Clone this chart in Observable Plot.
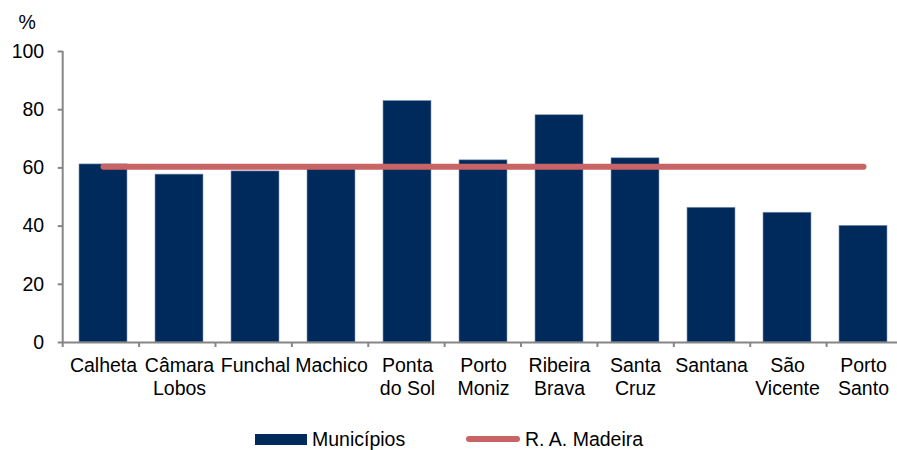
<!DOCTYPE html>
<html>
<head>
<meta charset="utf-8">
<script src="https://cdn.jsdelivr.net/npm/d3@7"></script>
<script src="https://cdn.jsdelivr.net/npm/@observablehq/plot@0.6"></script>
<style>
  html, body { margin: 0; padding: 0; background: #fff; overflow: hidden; }
  body { width: 897px; height: 450px; font-family: "Liberation Sans", Arial, sans-serif; }
  #chart svg { display: block; overflow: hidden; }
  .legend { position: relative; top: -3px; height: 22px; font-size: 19.5px; line-height: 22px; color: #000; }
  .legend .item { position: absolute; top: 0; display: flex; align-items: center; height: 22px; }
  .legend .sw-bar { width: 52px; height: 11px; background: #002a5c; margin-right: 5px; }
  .legend .sw-line { width: 54px; height: 6px; border-radius: 3px; background: #c86463; margin-right: 5px; }
</style>
</head>
<body>
<div id="chart"></div>
<div class="legend">
  <div class="item" style="left:255px"><span class="sw-bar"></span><span>Municípios</span></div>
  <div class="item" style="left:466px"><span class="sw-line"></span><span>R. A. Madeira</span></div>
</div>
<script>
const categories = ["Calheta", "Câmara Lobos", "Funchal", "Machico", "Ponta do Sol", "Porto Moniz", "Ribeira Brava", "Santa Cruz", "Santana", "São Vicente", "Porto Santo"];
const categoryLabels = ["Calheta", "Câmara\nLobos", "Funchal", "Machico", "Ponta\ndo Sol", "Porto\nMoniz", "Ribeira\nBrava", "Santa\nCruz", "Santana", "São\nVicente", "Porto\nSanto"];
const municipios = [61.2, 57.7, 58.8, 59.8, 83.0, 62.6, 78.1, 63.3, 46.3, 44.6, 40.1];
const madeira = [60.4, 60.4, 60.4, 60.4, 60.4, 60.4, 60.4, 60.4, 60.4, 60.4, 60.4];
const yTicks = [0, 20, 40, 60, 80, 100];

const bars = categories.map((c, i) => ({cat: c, value: municipios[i]}));
const lineData = categories.map((c, i) => ({cat: c, value: madeira[i]}));
const labelOf = new Map(categories.map((c, i) => [c, categoryLabels[i]]));

const axisColor = "#868686";
const font = "Liberation Sans, Arial, sans-serif";

// boundary ticks and left axis line, positioned from the plot's own dimensions
function frameTicks(index, scales, values, dim) {
  const g = d3.create("svg:g").attr("stroke", axisColor).attr("stroke-width", 2);
  const x0 = dim.marginLeft, x1 = dim.width - dim.marginRight;
  const yb = dim.height - dim.marginBottom, yt = dim.marginTop;
  g.append("line").attr("x1", x0).attr("x2", x0).attr("y1", yt).attr("y2", yb);
  const n = categories.length, step = (x1 - x0) / n;
  for (let i = 0; i <= n; i++) {
    g.append("line").attr("x1", x0 + i * step).attr("x2", x0 + i * step).attr("y1", yb).attr("y2", yb + 5);
  }
  return g.node();
}

const chart = Plot.plot({
  width: 897,
  height: 431,
  marginLeft: 62.7,
  marginRight: -6,
  marginTop: 51,
  marginBottom: 89,
  style: {fontFamily: font, fontSize: "19.5px", color: "#000", background: "#fff"},
  x: {domain: categories, paddingInner: 0.37, paddingOuter: 0.185, axis: null},
  y: {domain: [0, 100], axis: null},
  marks: [
    Plot.barY(bars, {x: "cat", y: "value", fill: "#002a5c", stroke: "#8499b5", strokeWidth: 0.6}),
    Plot.ruleY([0], {stroke: axisColor, strokeWidth: 2}),
    frameTicks,
    Plot.axisY({ticks: yTicks, tickSize: 5, tickPadding: 14, stroke: axisColor, strokeWidth: 2, fontSize: 19.5, fill: "#000", label: null, tickFormat: d => d}),
    Plot.line(lineData, {x: "cat", y: "value", stroke: "#c86463", strokeWidth: 6, strokeLinecap: "round"}),
    Plot.text(categories, {x: d => d, text: d => labelOf.get(d), frameAnchor: "bottom", lineAnchor: "top", dy: 14, fontSize: 19.5, lineHeight: 1.15, fill: "#000"}),
    Plot.text(["%"], {frameAnchor: "top-left", textAnchor: "start", lineAnchor: "bottom", dx: -44.7, dy: -23, fontSize: 19.5, fill: "#000"})
  ]
});
document.getElementById("chart").appendChild(chart);
</script>
</body>
</html>
